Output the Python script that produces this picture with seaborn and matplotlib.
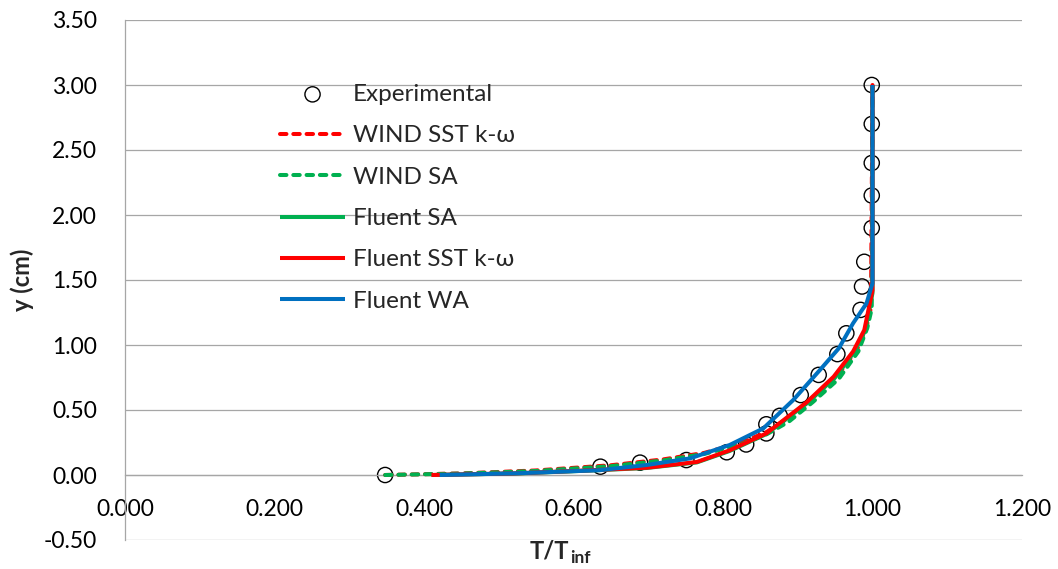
import matplotlib
matplotlib.use("Agg")
import matplotlib.pyplot as plt
import seaborn as sns
import pandas as pd
import numpy as np

# ---------------- data ----------------
exp_x = [0.348, 0.636, 0.689, 0.751, 0.805, 0.831, 0.858, 0.858, 0.876, 0.904, 0.928,
         0.953, 0.965, 0.984, 0.986, 0.989, 0.999, 0.999, 0.999, 0.999, 0.999]
exp_y = [0.00, 0.064, 0.095, 0.115, 0.175, 0.235, 0.32, 0.39, 0.455, 0.615, 0.77,
         0.93, 1.09, 1.27, 1.45, 1.64, 1.90, 2.15, 2.40, 2.70, 3.00]

wind_sst_x = [0.348, 0.45, 0.55, 0.65, 0.72, 0.775, 0.825, 0.858, 0.885, 0.916, 0.952,
              0.979, 0.992, 0.998, 1.0]
wind_sst_y = [0.0, 0.012, 0.035, 0.075, 0.12, 0.17, 0.25, 0.33, 0.43, 0.577, 0.756,
              0.96, 1.14, 1.29, 3.0]

wind_sa_x = [0.348, 0.45, 0.55, 0.65, 0.72, 0.775, 0.825, 0.858, 0.888, 0.92, 0.955,
             0.981, 0.993, 0.999, 1.0]
wind_sa_y = [0.0, 0.011, 0.031, 0.068, 0.112, 0.162, 0.238, 0.312, 0.41, 0.56, 0.74,
             0.95, 1.13, 1.28, 3.0]

fluent_sa_x = [0.410, 0.52, 0.609, 0.698, 0.765, 0.809, 0.858, 0.912, 0.950, 0.976,
               0.990, 1.0, 1.0]
fluent_sa_y = [0.0, 0.011, 0.031, 0.054, 0.097, 0.185, 0.315, 0.55, 0.75, 0.95,
               1.11, 1.40, 3.0]

fluent_sst_x = [0.410, 0.52, 0.609, 0.698, 0.765, 0.809, 0.858, 0.912, 0.948, 0.974,
                0.989, 1.0, 1.0]
fluent_sst_y = [0.0, 0.012, 0.033, 0.056, 0.10, 0.19, 0.32, 0.56, 0.756, 0.95,
                1.115, 1.42, 3.0]

fluent_wa_x = [0.421, 0.524, 0.635, 0.698, 0.756, 0.809, 0.854, 0.894, 0.930, 0.955,
               0.974, 0.992, 1.0, 1.0]
fluent_wa_y = [0.0, 0.013, 0.037, 0.077, 0.128, 0.231, 0.359, 0.577, 0.81, 0.975,
               1.167, 1.32, 1.475, 3.0]

x_ticks = [0.0, 0.2, 0.4, 0.6, 0.8, 1.0, 1.2]
y_ticks = [-0.5, 0.0, 0.5, 1.0, 1.5, 2.0, 2.5, 3.0, 3.5]

# ---------------- style ----------------
sns.set_theme(style="white")
plt.rcParams['font.family'] = ['Lato', 'DejaVu Sans']

fig = plt.figure(figsize=(10.58, 5.69), dpi=100)
ax = fig.add_axes([125 / 1058, 1 - 540 / 569, 897 / 1058, 520 / 569])

grid_c = "#A6A6A6"
for yv in y_ticks:
    ax.axhline(yv, color=grid_c, lw=0.9, zorder=0)

LW = 2.9
sns.scatterplot(x=exp_x, y=exp_y, ax=ax, marker="o", s=120, facecolors="none",
                edgecolor="black", linewidth=1.0, label="Experimental", zorder=2)

series = [
    ("WIND SST k-ω", wind_sst_x, wind_sst_y, "#FF0000", True),
    ("WIND SA", wind_sa_x, wind_sa_y, "#00B050", True),
    ("Fluent SA", fluent_sa_x, fluent_sa_y, "#00B050", False),
    ("Fluent SST k-ω", fluent_sst_x, fluent_sst_y, "#FF0000", False),
    ("Fluent WA", fluent_wa_x, fluent_wa_y, "#0070C0", False),
]
for i, (name, xs, ys, col, dashed) in enumerate(series):
    df = pd.DataFrame({"x": xs, "y": ys})
    sns.lineplot(data=df, x="x", y="y", ax=ax, sort=False, color=col, lw=LW,
                 label=name, zorder=3 + i, estimator=None)
    ln = ax.lines[-1]
    if dashed:
        ln.set_dashes((1.6, 1.7))
        ln.set_dash_capstyle("round")
    else:
        ln.set_solid_capstyle("butt")

ax.set_xlim(0, 1.2)
ax.set_ylim(-0.5, 3.5)
ax.set_xticks(x_ticks)
ax.set_yticks(y_ticks)
ax.set_xticklabels([f"{v:.3f}" for v in x_ticks])
ax.set_yticklabels([f"{v:.2f}" for v in y_ticks])
ax.tick_params(axis="x", length=0, pad=17, labelsize=16.5, colors="#000000")
ax.tick_params(axis="y", length=0, pad=20, labelsize=16.5, colors="#000000")

for s in ["top", "right"]:
    ax.spines[s].set_visible(False)
ax.spines["bottom"].set_position(("data", 0))
ax.spines["bottom"].set_color(grid_c)
ax.spines["bottom"].set_linewidth(0.9)
ax.spines["left"].set_color(grid_c)
ax.spines["left"].set_linewidth(0.9)

ax.set_xlabel("")
lbl = ax.text((569 - 125) / 897, -0.022, "T/T", transform=ax.transAxes, ha="right",
              va="center", fontsize=17, fontweight="bold")
ax.annotate("inf", xy=(1, 0.5), xycoords=lbl, xytext=(0.5, -4.5), textcoords="offset points",
            ha="left", va="center", fontsize=12.5, fontweight="bold")
ax.set_ylabel("y (cm)", fontsize=17, fontweight="bold")
ax.yaxis.set_label_coords(-0.115, 0.5)
ax.yaxis.label.set_va("center")

leg = ax.legend(loc="upper left", bbox_to_anchor=(145 / 897, 1 - 54 / 520),
                frameon=False, fontsize=17.5, handlelength=2.7, handletextpad=0.3,
                labelspacing=0.84, borderaxespad=0)

fig.savefig("out.png", dpi=100)
